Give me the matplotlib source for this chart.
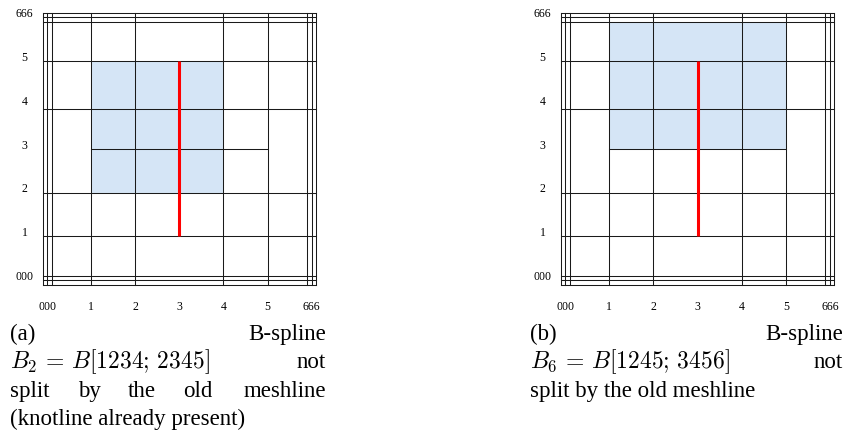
import matplotlib
matplotlib.use('Agg')
import matplotlib.pyplot as plt

plt.rcParams['font.family'] = ['Liberation Serif', 'DejaVu Serif']
plt.rcParams['mathtext.fontset'] = 'cm'

# knot lines of the mesh (end knots 0 and 6 are triple)
x_knots = [0, 1, 2, 4, 5]
y_knots = [0, 1, 2, 3.9, 5]
end_knots = [0, 6]
tick_labels = ['000', '1', '2', '3', '4', '5', '666']
tick_vals = [0, 1, 2, 3, 4, 5, 6]

# partial horizontal line y=3 from x=1 to x=5
part_y = 3
part_x = (1, 5)

# new meshline (red)
red_x = 3
red_y = (1, 5)

# supports of the B-splines: (x0, x1, y0, y1)
support_a = (1, 4, 2, 5)
support_b = (1, 5, 3, 5.9)

captions = {
    'a': ['(a)', 'B-spline', r'$B_2\,=\,B[1234;\,2345]$', 'not',
          ['split', 'by', 'the', 'old', 'meshline'], '(knotline already present)'],
    'b': ['(b)', 'B-spline', r'$B_6\,=\,B[1245;\,3456]$', 'not',
          'split by the old meshline', None],
}

W, H = 849, 435
fig = plt.figure(figsize=(W / 100, H / 100), dpi=100)

delta = 0.1
line_kw = dict(color='#1a1a1a', lw=0.75, clip_on=False, zorder=2)


def draw_mesh(ax, support):
    x0, x1, y0, y1 = support
    ax.fill_between([x0, x1], y0, y1, color='#d5e5f6', lw=0, zorder=1)
    for k in end_knots:
        for d in (-delta, 0, delta):
            ax.plot([k + d, k + d], [-delta, 6 + delta], **line_kw)
            ax.plot([-delta, 6 + delta], [k + d, k + d], **line_kw)
    for xk in x_knots[1:]:
        ax.plot([xk, xk], [-delta, 6 + delta], **line_kw)
    for yk in y_knots[1:]:
        ax.plot([-delta, 6 + delta], [yk, yk], **line_kw)
    ax.plot(part_x, [part_y, part_y], **line_kw)
    ax.plot([red_x, red_x], red_y, color='#ff0000', lw=2.2, zorder=3,
            solid_capstyle='butt')
    ax.set_xlim(-delta, 6 + delta)
    ax.set_ylim(-delta, 6 + delta)
    for s in ax.spines.values():
        s.set_visible(False)
    ax.set_xticks(tick_vals, labels=tick_labels)
    ax.set_yticks([v + 0.13 for v in tick_vals], labels=tick_labels)
    ax.tick_params(axis='x', length=0, labelsize=8.5, pad=11)
    ax.tick_params(axis='y', length=0, labelsize=8.5, pad=0)
    for lab in ax.get_yticklabels():
        lab.set_horizontalalignment('center')
        lab.set_x(-0.066)


ax1 = fig.add_axes([42.7 / W, 1 - 285.7 / H, 273.3 / W, 273 / H])
draw_mesh(ax1, support_a)
ax2 = fig.add_axes([560.7 / W, 1 - 285.7 / H, 273.6 / W, 273 / H])
draw_mesh(ax2, support_b)

fs = 16.5


def txt(x, y, s, ha='left', size=fs):
    fig.text(x / W, 1 - y / H, s, ha=ha, va='baseline', fontsize=size)


base = [340, 368.5, 396.7, 425]

# caption (a)
ca = captions['a']
txt(10, base[0], ca[0])
txt(325.7, base[0], ca[1], ha='right')
txt(10, base[1], ca[2], size=17)
txt(325.7, base[1], ca[3], ha='right')
for word, xw in zip(ca[4][:-1], [10, 78, 128, 182.7]):
    txt(xw, base[2], word)
txt(325.7, base[2], ca[4][-1], ha='right')
txt(10, base[3], ca[5])

# caption (b)
cb = captions['b']
txt(530, base[0], cb[0])
txt(842.7, base[0], cb[1], ha='right')
txt(530, base[1], cb[2], size=17)
txt(842.7, base[1], cb[3], ha='right')
txt(530, base[2], cb[4])

fig.savefig('out.png', dpi=100)
